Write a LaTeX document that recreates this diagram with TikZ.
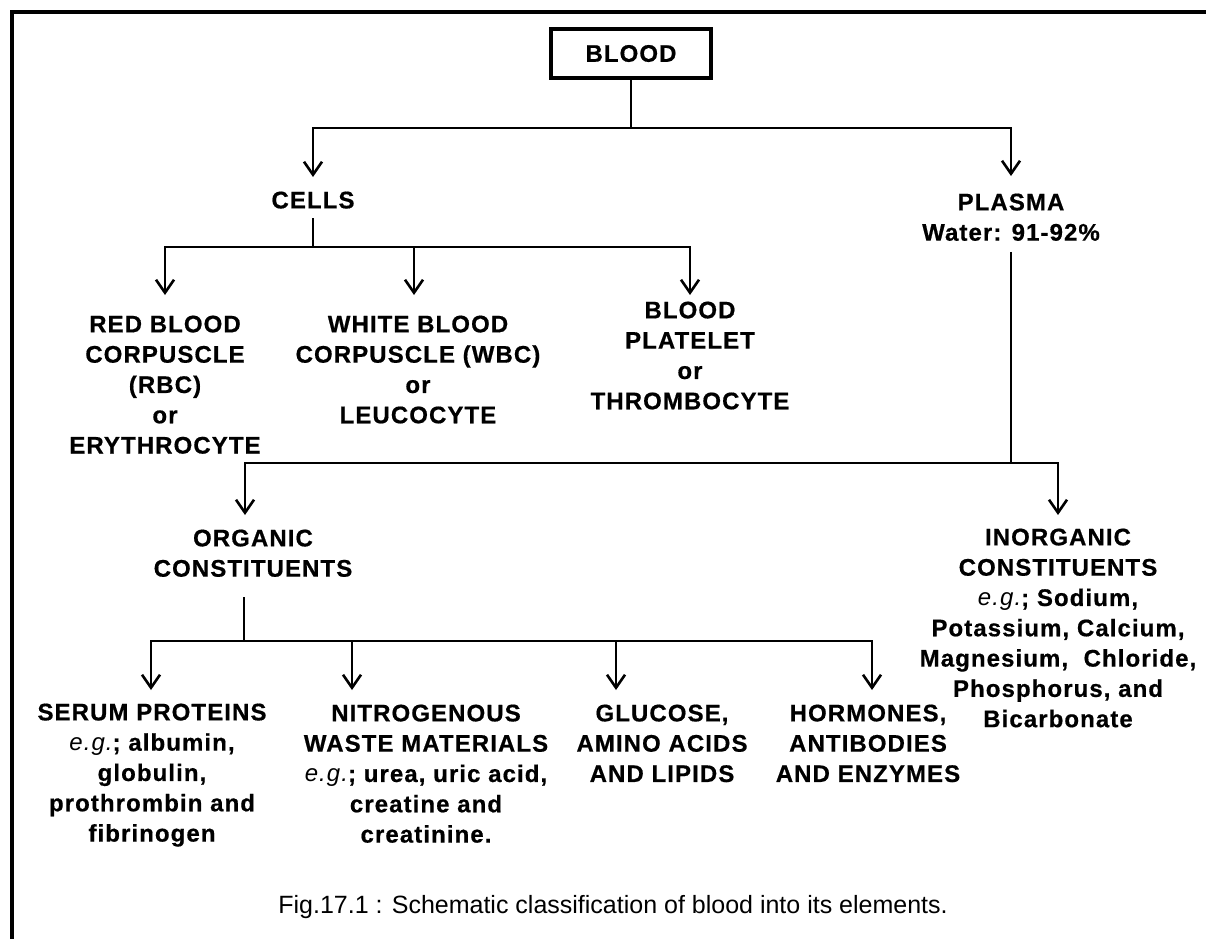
\documentclass[tikz,border=0pt]{standalone}
\usepackage{fontspec}
\setmainfont{Liberation Sans}[LetterSpace=4.5, BoldFeatures={FakeBold=0.6}]
\newfontfamily\capfont{Liberation Sans}
\usetikzlibrary{arrows.meta}
\newcommand{\egx}{{\mdseries\itshape e.g.}}
\tikzset{
  lbl/.style={align=center, inner sep=0pt, anchor=north, font=\bfseries\fontsize{24}{30.3}\selectfont},
  conn/.style={line width=2.6pt},
  arr/.style={conn, -{Straight Barb[length=13pt,width=18pt]}},
  framebox/.style={line width=3.3pt},
  rootbox/.style={draw, line width=3.8pt, anchor=center, minimum width=160pt, minimum height=49pt}
}
\begin{document}
\begin{tikzpicture}[x=1pt,y=-1pt]
\useasboundingbox (0,0) rectangle (1206,938);
\fill[white] (0,0) rectangle (1206,938);
\draw[framebox] (12,950) -- (12,12) -- (1220,12);

% nodes
\node[lbl, rootbox] (blood) at (631,53.5) {BLOOD};
\node[lbl] (cells) at (313,191.4) {CELLS};
\node[lbl] (plasma) at (1011,193.4) {PLASMA\\Water: 91-92\%};
\node[lbl] (rbc) at (165,315.4) {RED BLOOD\\CORPUSCLE\\(RBC)\\or\\ERYTHROCYTE};
\node[lbl] (wbc) at (418,315.4) {WHITE BLOOD\\CORPUSCLE (WBC)\\or\\LEUCOCYTE};
\node[lbl] (plat) at (690,301.4) {BLOOD\\PLATELET\\or\\THROMBOCYTE};
\node[lbl] (organic) at (253,529.4) {ORGANIC\\CONSTITUENTS};
\node[lbl] (inorg) at (1058,528.4) {INORGANIC\\CONSTITUENTS\\\egx; Sodium,\\Potassium, Calcium,\\Magnesium,\ \ Chloride,\\Phosphorus, and\\Bicarbonate};
\node[lbl] (serum) at (152,703.4) {SERUM PROTEINS\\\egx; albumin,\\globulin,\\prothrombin and\\fibrinogen};
\node[lbl] (nitro) at (426,704.4) {NITROGENOUS\\WASTE MATERIALS\\\egx; urea, uric acid,\\creatine and\\creatinine.};
\node[lbl] (gluc) at (662,704.4) {GLUCOSE,\\AMINO ACIDS\\AND LIPIDS};
\node[lbl] (horm) at (868,704.4) {HORMONES,\\ANTIBODIES\\AND ENZYMES};
\node[anchor=center, inner sep=0pt, font=\capfont\fontsize{25}{30}\selectfont] (cap) at (613,907)
  {Fig.17.1 : Schematic classification of blood into its elements.};

% junctions
\coordinate (t0) at (631,128);
\coordinate (c0) at (313,247);
\coordinate (cW) at (414,247);
\coordinate (p0) at (1011,463);
\coordinate (oA) at (245,463);
\coordinate (o0) at (244,641);
\coordinate (oS) at (151,641);
\coordinate (oN) at (352,641);
\coordinate (oG) at (616,641);
\coordinate (oH) at (872,641);

% connectors
\draw[conn] (blood.south) -- (t0);
\draw[arr, shorten >=14.4pt] (t0) -| (cells.north);
\draw[arr, shorten >=17.4pt] (t0) -| (plasma.north);

\draw[conn, shorten <=9.4pt] (cells.south) -- (c0);
\draw[arr, shorten >=20.4pt] (c0) -| (rbc.north);
\draw[arr, shorten >=6.4pt] (c0) -| (plat.north);
\draw[arr, shorten >=20.4pt] (cW) -- (cW |- wbc.north);

\draw[conn, shorten <=10.8pt] (plasma.south) -- (p0);
\draw[arr, shorten >=14.4pt] (p0) -- (oA) -- (oA |- organic.north);
\draw[arr, shorten >=13.4pt] (p0) -| (inorg.north);

\draw[conn, shorten <=20pt] (o0 |- organic.south) -- (o0);
\draw[arr, shorten >=13.4pt] (o0) -- (oS) -- (oS |- serum.north);
\draw[arr, shorten >=14.4pt] (o0) -- (oH) -- (oH |- horm.north);
\draw[arr, shorten >=14.4pt] (oN) -- (oN |- nitro.north);
\draw[arr, shorten >=14.4pt] (oG) -- (oG |- gluc.north);
\end{tikzpicture}
\end{document}
